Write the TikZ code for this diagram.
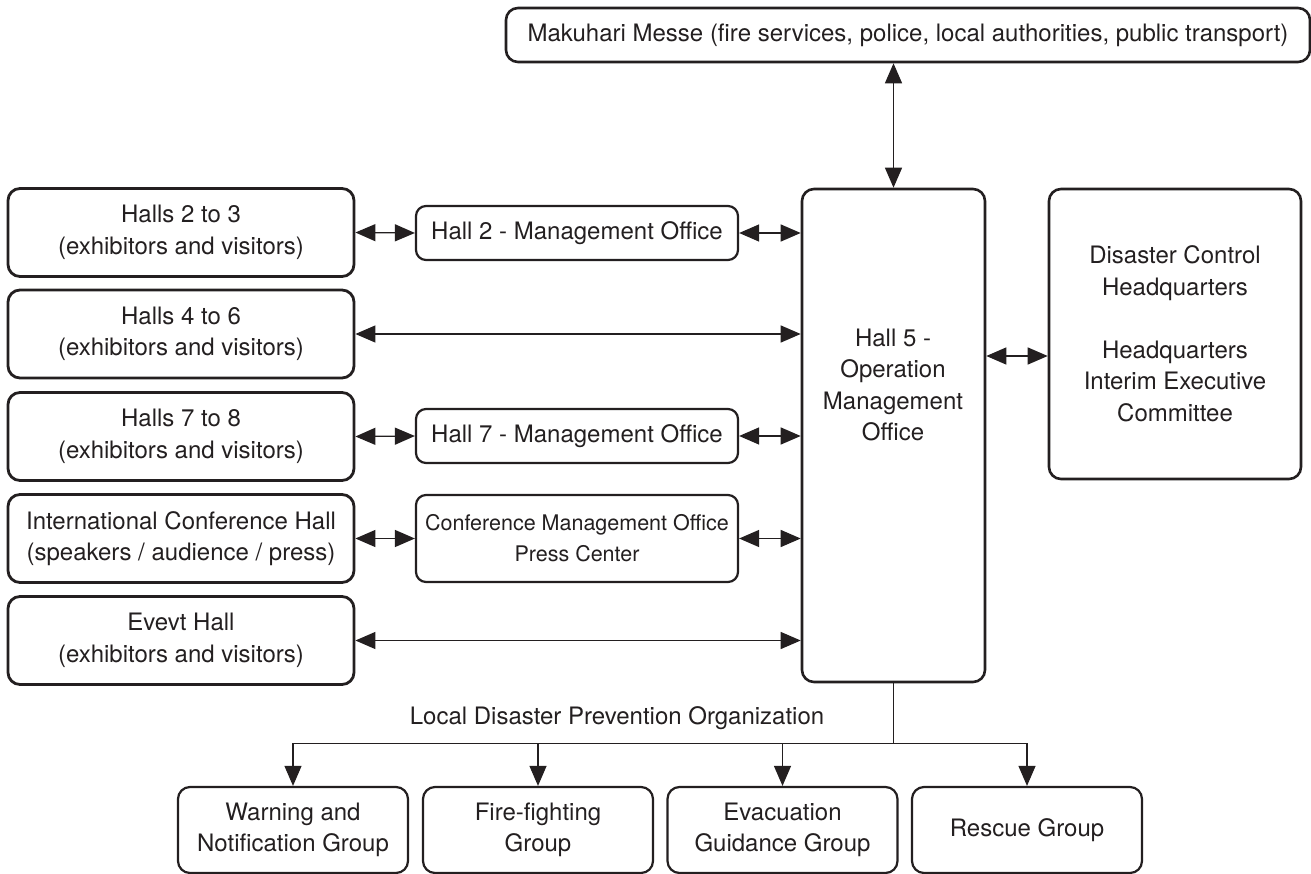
\documentclass[tikz,border=0pt]{standalone}
\usepackage{fontspec}
\setmainfont{TeX Gyre Heros}
\usetikzlibrary{arrows.meta,calc}
\definecolor{ink}{HTML}{231F20}
\tikzset{
  box/.style={draw=ink, text=ink, line width=2.6pt, rounded corners=12pt, align=center, inner sep=0pt},
  hallbox/.style={box, line width=2.8pt, minimum width=346pt, minimum height=88pt},
  officebox/.style={box, line width=2.2pt, rounded corners=10pt, minimum width=322pt, minimum height=54pt},
  groupbox/.style={box, line width=2.2pt, minimum width=230pt, minimum height=86pt},
  link/.style={draw=ink, line width=1.3pt, {Triangle[length=20pt,width=17pt]}-{Triangle[length=20pt,width=17pt]}},
  drop/.style={draw=ink, line width=1.1pt, -{Triangle[length=20pt,width=17pt]}},
}
\begin{document}
\begin{tikzpicture}[x=1pt, y=-1pt, font=\fontsize{24}{31.5}\selectfont]
\useasboundingbox (0,0) rectangle (1311,874);
% outside bodies and the central office
\node[box, minimum width=804pt, minimum height=54pt] (messe) at (908,35) {Makuhari Messe (fire services, police, local authorities, public transport)};
\node[box, minimum width=183pt, minimum height=493pt] (hall5) at (893.5,435.5) {};
\node[text=ink, align=center] (hall5lbl) at (893,385) {Hall 5 -\\Operation\\Management\\Office};
\node[box, minimum width=252pt, minimum height=290pt] (hq) at (1175,334) {Disaster Control\\Headquarters\\[31.5pt]Headquarters\\Interim Executive\\Committee};
% halls
\node[hallbox] (halls23) at (181,232.5) {Halls 2 to 3\\(exhibitors and visitors)};
\node[hallbox] (halls46) at (181,334) {Halls 4 to 6\\(exhibitors and visitors)};
\node[hallbox] (halls78) at (181,436.5) {Halls 7 to 8\\(exhibitors and visitors)};
\node[hallbox] (confhall) at (181,538.5) {International Conference Hall\\(speakers / audience / press)};
\node[hallbox] (eventhall) at (181,640.5) {Evevt Hall\\(exhibitors and visitors)};
% management offices
\node[officebox] (office2) at (577,233) {Hall 2 - Management Office};
\node[officebox] (office7) at (577,436) {Hall 7 - Management Office};
\node[officebox, minimum height=87pt, font=\fontsize{21.5}{31}\selectfont] (confoffice) at (577,538.5) {Conference Management Office\\Press Center};
% groups
\node[groupbox] (warning) at (293,830) {Warning and\\Notification Group};
\node[groupbox] (firefight) at (538,830) {Fire-fighting\\Group};
\node[groupbox] (evacuation) at (782.5,830) {Evacuation\\Guidance Group};
\node[groupbox] (rescue) at (1027,830) {Rescue Group};
\node[text=ink] (orglabel) at (617,718) {Local Disaster Prevention Organization};
% links
\draw[link] (messe.south -| hall5.north) -- (hall5.north);
\coordinate (hqlink) at (hq.west |- 0,356);
\draw[link] (hqlink -| hall5.east) -- (hqlink);
\draw[link] (halls23.east) -- (office2.west);
\draw[link] (office2.east) -- (office2.east -| hall5.west);
\draw[link] (halls46.east) -- (halls46.east -| hall5.west);
\draw[link] (halls78.east) -- (office7.west);
\draw[link] (office7.east) -- (office7.east -| hall5.west);
\draw[link] (confhall.east) -- (confoffice.west);
\draw[link] (confoffice.east) -- (confoffice.east -| hall5.west);
\draw[link] (eventhall.east) -- (eventhall.east -| hall5.west);
% local organization
\draw[draw=ink, line width=1.1pt] (hall5.south) -- ++(0,60) coordinate (split);
\draw[draw=ink, line width=1.1pt] (warning.north |- split) -- (rescue.north |- split);
\foreach \g in {warning,firefight,evacuation,rescue}
  \draw[drop] (\g.north |- split) -- (\g.north);
\end{tikzpicture}
\end{document}
